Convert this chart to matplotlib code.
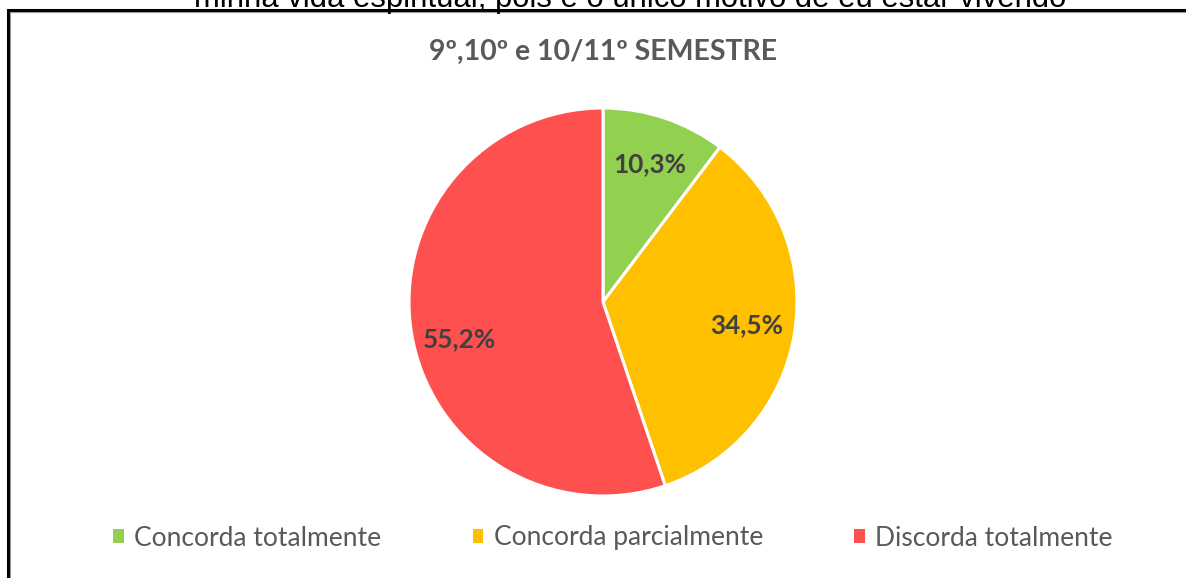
import matplotlib.pyplot as plt
from matplotlib.lines import Line2D

# respostas por categoria (%)
categorias = ['Concorda totalmente', 'Concorda parcialmente', 'Discorda totalmente']
valores = [10.3, 34.5, 55.2]
cores = ['#92D050', '#FFC000', '#FF5050']
rotulos = ['10,3%', '34,5%', '55,2%']

titulo = '9º,10º e 10/11º SEMESTRE'
pergunta = 'minha vida espiritual, pois é o único motivo de eu estar vivendo'

W, H = 1186, 578
fig = plt.figure(figsize=(W / 100, H / 100), dpi=100)
fig.patch.set_facecolor('white')


def fx(px):
    return px / W


def fy(py):
    return 1 - py / H


# texto da pergunta, cortado no topo
fig.text(fx(630), fy(7), pergunta, ha='center', va='baseline',
         fontsize=22.3, family='Liberation Sans', color='black')

# moldura do gráfico (lados esquerdo e superior)
fig.add_artist(Line2D([fx(8), fx(8), fx(W)], [fy(H), fy(10), fy(10)],
                      transform=fig.transFigure, color='black', lw=2.2,
                      solid_joinstyle='miter'))
fig.add_artist(Line2D([fx(10), fx(10), fx(W)], [fy(H), fy(11.5), fy(11.5)],
                      transform=fig.transFigure, color='#9a9a9a', lw=0.8))

# pizza
cx, cy, r = 603, 302, 194
pad = 1.03
ax = fig.add_axes([fx(cx - r * pad), fy(cy + r * pad), 2 * r * pad / W, 2 * r * pad / H])
wedges, texts = ax.pie(valores, colors=cores, startangle=90, counterclock=False,
                       radius=1, wedgeprops=dict(edgecolor='white', linewidth=2.2),
                       labels=rotulos, labeldistance=0.75,
                       textprops=dict(fontsize=18.8, fontweight='bold', color='#404040',
                                      family='Lato', ha='center', va='center'))
# rótulo maior um pouco mais abaixo
x2, y2 = texts[2].get_position()
texts[2].set_position((x2, y2 - 0.07))
ax.set_xlim(-pad, pad)
ax.set_ylim(-pad, pad)
ax.set_aspect('equal')
ax.axis('off')

fig.text(fx(603), fy(52), titulo, ha='center', va='center', fontsize=20.5,
         fontweight='bold', color='#595959', family='Lato')

leg = fig.legend(wedges, categorias, loc='center', bbox_to_anchor=(fx(613), fy(538)),
                 ncol=3, frameon=False, handlelength=0.4, handleheight=0.4,
                 handletextpad=0.4, columnspacing=3.45,
                 prop=dict(family='Lato', size=19))
for t in leg.get_texts():
    t.set_color('#595959')
for h in leg.legend_handles:
    h.set_edgecolor('none')

fig.savefig('out.png', dpi=100)
